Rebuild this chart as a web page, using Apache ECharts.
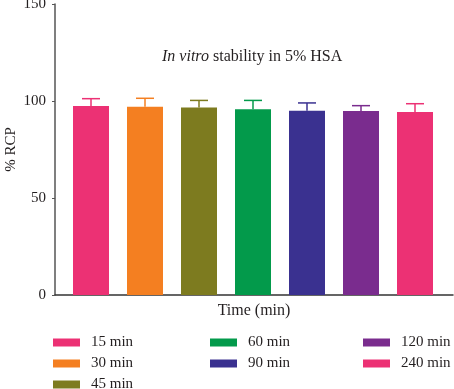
<!DOCTYPE html>
<html>
<head>
<meta charset="utf-8">
<script src="https://cdn.jsdelivr.net/npm/echarts@6/dist/echarts.min.js"></script>
<style>html,body{margin:0;padding:0;background:#fff}#c{width:454px;height:389px}</style>
</head>
<body>
<div id="c"></div>
<script>
var categories = ['15 min', '30 min', '45 min', '60 min', '90 min', '120 min', '240 min'];
var rcpValues = [97.4, 97.1, 96.7, 95.7, 95.0, 94.8, 94.3];
var rcpErrors = [3.8, 4.3, 3.6, 4.6, 4.0, 2.8, 4.3];
var colors = ['#ec3174', '#f47f21', '#7d7b1f', '#039a4b', '#3a3190', '#7a2c8e', '#ec3174'];
var yTicks = [0, 50, 100, 150];

var FONT = 'Liberation Serif';
var TXT = '#231f20';

var series = categories.map(function (name, i) {
  return {
    name: name,
    type: 'bar',
    stack: 'all',
    barWidth: 36,
    xAxisIndex: 0,
    yAxisIndex: 0,
    itemStyle: { color: colors[i] },
    data: categories.map(function (c, j) { return j === i ? rcpValues[i] : '-'; }),
    z: 2
  };
});

series.push({
  type: 'custom',
  name: 'err',
  xAxisIndex: 0,
  yAxisIndex: 0,
  z: 3,
  data: categories.map(function (c, i) { return [i, rcpValues[i], rcpValues[i] + rcpErrors[i]]; }),
  renderItem: function (params, api) {
    var i = api.value(0);
    var base = api.coord([i, api.value(1)]);
    var top = api.coord([i, api.value(2)]);
    var half = 9;
    var col = colors[params.dataIndex];
    return {
      type: 'group',
      children: [
        { type: 'line', shape: { x1: base[0], y1: base[1], x2: top[0], y2: top[1] }, style: { stroke: col, lineWidth: 1.5 } },
        { type: 'line', shape: { x1: top[0] - half, y1: top[1], x2: top[0] + half, y2: top[1] }, style: { stroke: col, lineWidth: 1.5 } }
      ]
    };
  }
});

function legend(left, data) {
  return {
    orient: 'vertical',
    left: left,
    top: 335,
    height: 80,
    padding: 0,
    icon: 'rect',
    itemWidth: 27,
    itemHeight: 8,
    itemGap: 6,
    selectedMode: false,
    data: data,
    textStyle: { fontFamily: FONT, fontSize: 15, lineHeight: 14, color: TXT, padding: [0, 0, 0, 6] }
  };
}

var chart = echarts.init(document.getElementById('c'), null, { renderer: 'canvas' });
chart.setOption({
  animation: false,
  backgroundColor: '#fff',
  title: {
    text: '{i|In vitro} stability in 5% HSA',
    left: 162,
    top: 49,
    padding: 0,
    textStyle: {
      fontFamily: FONT, fontSize: 16, fontWeight: 'normal', color: TXT,
      rich: { i: { fontFamily: FONT, fontSize: 16, fontStyle: 'italic', color: TXT } }
    }
  },
  legend: [
    legend(53, categories.slice(0, 3)),
    legend(210, categories.slice(3, 5)),
    legend(363, categories.slice(5, 7))
  ],
  grid: [
    { left: 64, right: 12, top: 4, bottom: 94, containLabel: false, outerBoundsMode: 'none' },
    { left: 55, right: 1, top: 4, bottom: 94, containLabel: false, outerBoundsMode: 'none' }
  ],
  xAxis: [
    {
      type: 'category',
      gridIndex: 0,
      data: categories,
      boundaryGap: true,
      axisLine: { show: false },
      axisTick: { show: false },
      axisLabel: { show: false },
      splitLine: { show: false }
    },
    {
      type: 'value',
      gridIndex: 1,
      min: 0,
      max: 1,
      name: 'Time (min)',
      nameLocation: 'middle',
      nameGap: 8,
      nameTextStyle: { fontFamily: FONT, fontSize: 16, color: TXT, verticalAlign: 'top' },
      axisLine: { show: true, onZero: false, lineStyle: { color: '#333', width: 1.5 } },
      axisTick: { show: false },
      axisLabel: { show: false },
      splitLine: { show: false }
    }
  ],
  yAxis: [
    {
      type: 'value',
      gridIndex: 0,
      min: 0,
      max: 150,
      interval: 50,
      offset: 9,
      name: '% RCP',
      nameLocation: 'middle',
      nameGap: 36,
      nameMoveOverlap: false,
      nameRotate: 90,
      nameTextStyle: { fontFamily: FONT, fontSize: 15, color: TXT },
      axisLine: { show: true, lineStyle: { color: '#555', width: 1.5 } },
      axisTick: { show: true, length: 3, lineStyle: { color: '#555' } },
      axisLabel: {
        fontFamily: FONT, fontSize: 15, color: TXT, margin: 9,
        formatter: function (v) { return yTicks.indexOf(v) >= 0 ? String(v) : ''; }
      },
      splitLine: { show: false }
    },
    {
      type: 'value',
      gridIndex: 1,
      show: false,
      min: 0,
      max: 1
    }
  ],
  series: series
});
</script>
</body>
</html>
